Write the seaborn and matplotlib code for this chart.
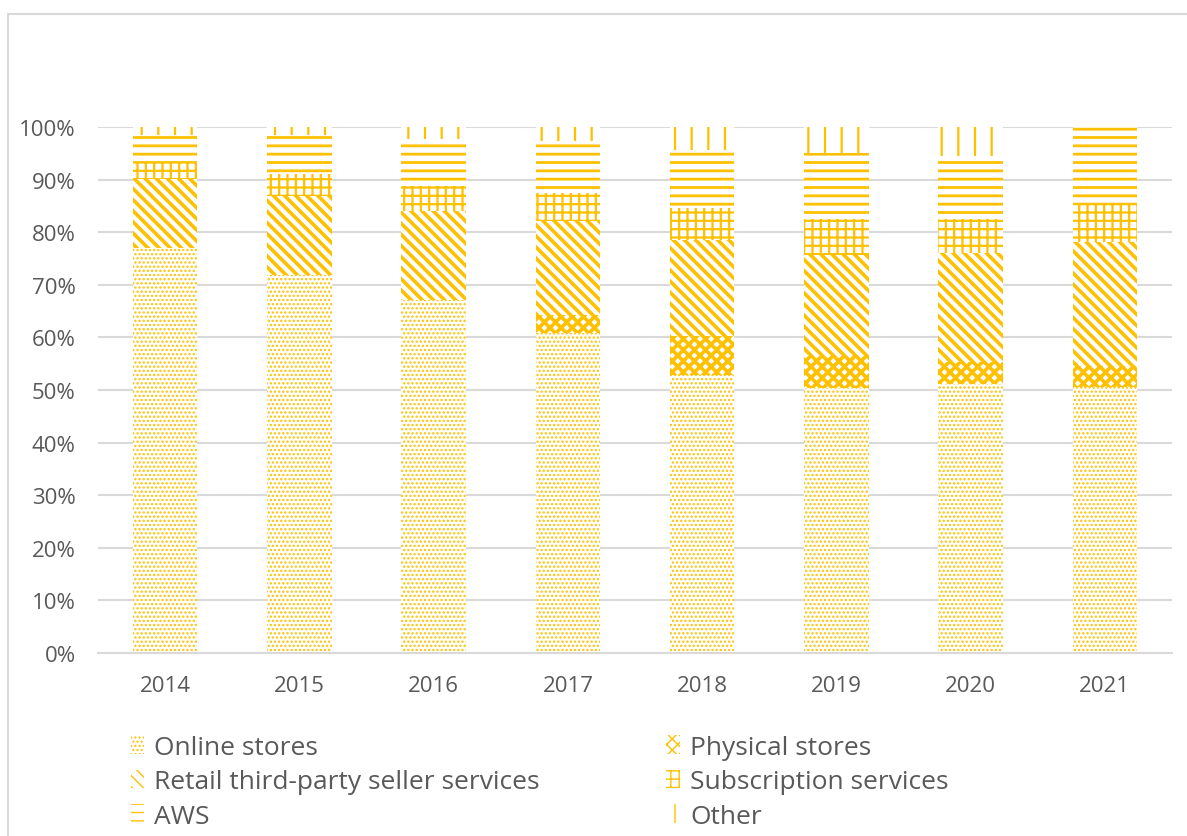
import numpy as np
import pandas as pd
import matplotlib.pyplot as plt
import seaborn as sns
from matplotlib.patches import Patch, Rectangle

# share of net sales by segment (%)
years = ['2014', '2015', '2016', '2017', '2018', '2019', '2020', '2021']
online_stores = [77.0, 71.9, 67.2, 60.9, 52.8, 50.3, 51.1, 50.6]
physical_stores = [0.0, 0.0, 0.0, 3.3, 7.4, 6.2, 4.2, 3.9]
third_party = [13.1, 15.0, 16.9, 17.9, 18.3, 19.2, 20.8, 23.6]
subscription = [3.1, 4.2, 4.7, 5.4, 6.1, 6.8, 6.5, 7.3]
aws = [5.2, 7.4, 9.0, 9.9, 11.0, 12.5, 11.8, 14.6]
other = [1.6, 1.5, 2.2, 2.6, 4.4, 5.0, 5.6, 0.0]

segments = ['Online stores', 'Physical stores', 'Retail third-party seller services',
            'Subscription services', 'AWS', 'Other']
values = [online_stores, physical_stores, third_party, subscription, aws, other]
bs = chr(92)  # backslash
hatches = ['....', 'xxx', bs * 3, '++', '--', '|']
hatch_lw = [1.1, 2.6, 2.6, 1.6, 2.0, 1.6]

gold = '#FFC000'
grey = '#D9D9D9'
text_col = '#595959'

sns.set_style('white')
plt.rcParams['font.family'] = ['Open Sans', 'DejaVu Sans']

df = pd.DataFrame(dict(zip(segments, values)), index=years)
bottoms = df.cumsum(axis=1) - df

fig = plt.figure(figsize=(11.87, 8.37), dpi=100)
ax = fig.add_axes([98 / 1187, 1 - 654 / 837, (1172 - 98) / 1187, (654 - 128) / 837])

for seg, h, lw in zip(segments, hatches, hatch_lw):
    with plt.rc_context({'hatch.linewidth': lw}):
        sns.barplot(x=df.index, y=df[seg], bottom=bottoms[seg].values, ax=ax,
                    width=0.48, color='white', edgecolor=gold, linewidth=0,
                    hatch=h, zorder=2)
    for bar in ax.patches[-len(years):]:
        if hasattr(bar, 'set_hatch_linewidth'):
            bar.set_hatch_linewidth(lw)

ax.set_xlim(-0.5, len(years) - 0.5)
ax.set_ylim(0, 100)
ax.set_yticks(np.arange(0, 101, 10))
ax.set_yticklabels([f'{t}%' for t in range(0, 101, 10)])
ax.set_xlabel('')
ax.set_ylabel('')

ax.yaxis.grid(True, color=grey, lw=1.5)
ax.set_axisbelow(True)
for s in ['top', 'right', 'left']:
    ax.spines[s].set_visible(False)
ax.spines['bottom'].set_color(grey)
ax.spines['bottom'].set_linewidth(1.5)

ax.set_xticks(np.arange(-0.5, len(years), 1), minor=True)
ax.tick_params(axis='x', which='major', length=0, pad=16, labelsize=16, labelcolor=text_col)
ax.tick_params(axis='x', which='minor', length=7, width=1.5, color=grey, direction='out')
ax.tick_params(axis='y', length=0, pad=16, labelsize=16, labelcolor=text_col)

# legend: column-wise order so it reads row by row like the original
handles = []
for h, lw in zip(hatches, hatch_lw):
    with plt.rc_context({'hatch.linewidth': lw}):
        p = Patch(facecolor='white', edgecolor=gold, hatch=h, lw=0)
    if hasattr(p, 'set_hatch_linewidth'):
        p.set_hatch_linewidth(lw)
    handles.append(p)
order = [0, 2, 4, 1, 3, 5]
fig.legend([handles[i] for i in order], [segments[i] for i in order],
           ncol=2, loc='upper left', bbox_to_anchor=(120 / 1187, 1 - 725 / 837),
           frameon=False, fontsize=19, labelcolor=text_col,
           handlelength=0.5, handleheight=0.7, handletextpad=0.4,
           columnspacing=4.8, labelspacing=0.36, borderaxespad=0)

# chart area border
fig.add_artist(Rectangle((8 / 1187, -0.1), 1.2, 1.1 - 15 / 837, transform=fig.transFigure,
                         fill=False, edgecolor=grey, lw=1.5))

fig.savefig('out.png', dpi=100)
